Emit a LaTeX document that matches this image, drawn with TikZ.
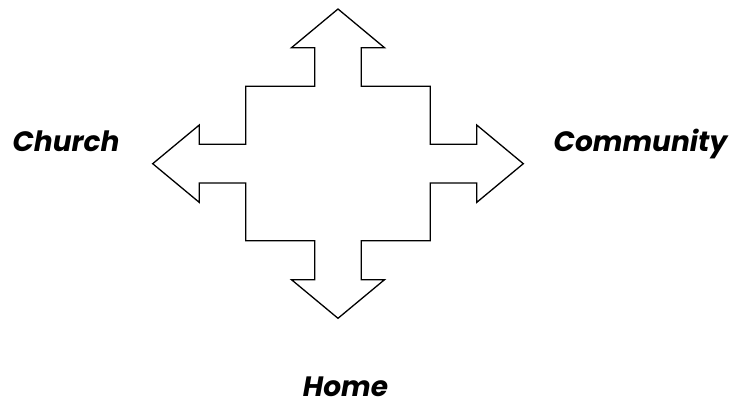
\documentclass[tikz,border=0pt]{standalone}
\usepackage{fontspec}
\usepackage{tikz}
\usetikzlibrary{positioning,calc}
\newfontfamily\placefont{Poppins}

\begin{document}
\begin{tikzpicture}[
    x=1pt, y=1pt,
    outline/.style={draw=black, line width=1.3pt, line join=miter, fill=white},
    place/.style={font=\placefont\bfseries\itshape\fontsize{28}{30}\selectfont, anchor=base, inner sep=0pt}
]
    \useasboundingbox (0,0) rectangle (740,405);
    \coordinate (c) at (338,241.3);

    \draw[outline, shift={(c)}]
        (0,154.7) -- (46.5,116) -- (23.2,116) -- (23.2,77.4) -- (92.2,77.4)
        -- (92.2,19.4) -- (138.7,19.4) -- (138.7,38.7) -- (185.3,0)
        -- (138.7,-38.7) -- (138.7,-19.4) -- (92.2,-19.4) -- (92.2,-77)
        -- (23.2,-77) -- (23.2,-116) -- (46.5,-116) -- (0,-154.6)
        -- (-46.5,-116) -- (-23.2,-116) -- (-23.2,-77) -- (-92.2,-77)
        -- (-92.2,-19.4) -- (-138.7,-19.4) -- (-138.7,-38.7) -- (-185.3,0)
        -- (-138.7,38.7) -- (-138.7,19.4) -- (-92.2,19.4) -- (-92.2,77.4)
        -- (-23.2,77.4) -- (-23.2,116) -- (-46.5,116) -- cycle;

    \node[place] (church) at (66,253.3) {Church};
    \node[place] (community) at (640.5,253.3) {Community};
    \node[place] (home) at (345.5,9) {Home};
\end{tikzpicture}
\end{document}
